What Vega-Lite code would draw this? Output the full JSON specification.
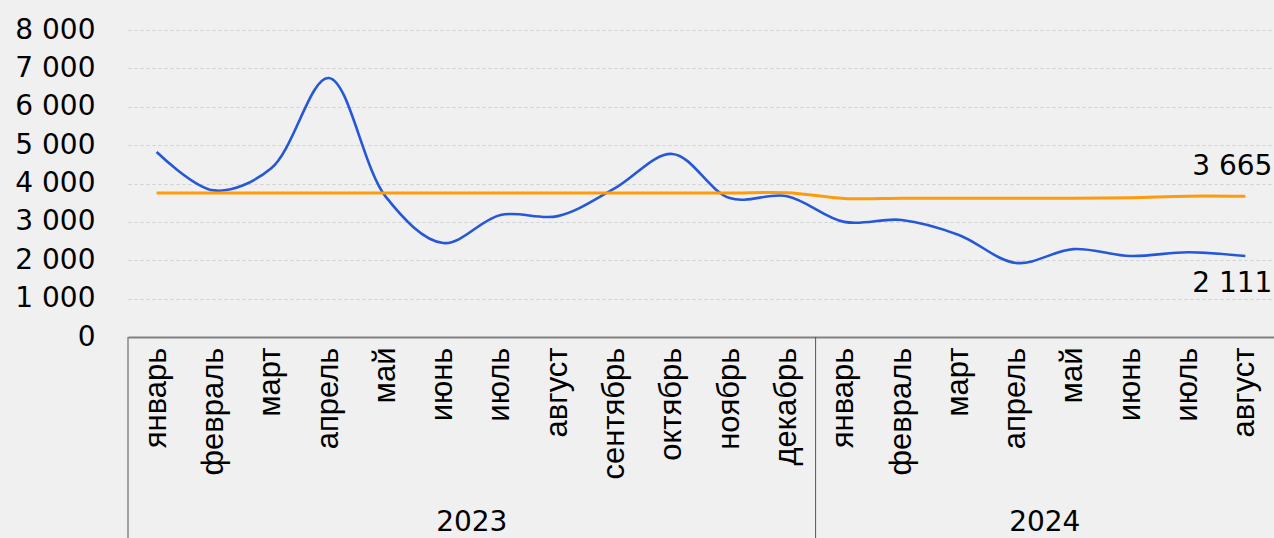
{
  "$schema": "https://vega.github.io/schema/vega-lite/v6.json",
  "autosize": {"type": "none"},
  "width": 1146,
  "height": 307,
  "padding": {"left": 128, "top": 30, "right": 0, "bottom": 201},
  "background": "#f0f0f0",
  "config": {
    "view": {"stroke": null},
    "locale": {"number": {"decimal": ",", "thousands": "\u00a0", "grouping": [3], "currency": ["", ""]}}
  },
  "datasets": {
    "main": [
      {"key": "январь|2023", "year": "2023", "fact": 4820, "avg": 3750},
      {"key": "февраль|2023", "year": "2023", "fact": 3820, "avg": 3750},
      {"key": "март|2023", "year": "2023", "fact": 4400, "avg": 3750},
      {"key": "апрель|2023", "year": "2023", "fact": 6750, "avg": 3750},
      {"key": "май|2023", "year": "2023", "fact": 3650, "avg": 3750},
      {"key": "июнь|2023", "year": "2023", "fact": 2450, "avg": 3750},
      {"key": "июль|2023", "year": "2023", "fact": 3180, "avg": 3750},
      {"key": "август|2023", "year": "2023", "fact": 3150, "avg": 3750},
      {"key": "сентябрь|2023", "year": "2023", "fact": 3880, "avg": 3750},
      {"key": "октябрь|2023", "year": "2023", "fact": 4770, "avg": 3750},
      {"key": "ноябрь|2023", "year": "2023", "fact": 3620, "avg": 3750},
      {"key": "декабрь|2023", "year": "2023", "fact": 3670, "avg": 3760},
      {"key": "январь|2024", "year": "2024", "fact": 3000, "avg": 3610},
      {"key": "февраль|2024", "year": "2024", "fact": 3050, "avg": 3615},
      {"key": "март|2024", "year": "2024", "fact": 2660, "avg": 3615},
      {"key": "апрель|2024", "year": "2024", "fact": 1930, "avg": 3615},
      {"key": "май|2024", "year": "2024", "fact": 2290, "avg": 3615},
      {"key": "июнь|2024", "year": "2024", "fact": 2110, "avg": 3630},
      {"key": "июль|2024", "year": "2024", "fact": 2210, "avg": 3670},
      {"key": "август|2024", "year": "2024", "fact": 2111, "avg": 3665}
    ],
    "years": [
      {"key": "июль|2023", "label": "2023", "top": 0, "bottom": -5300, "sep": "январь|2023"},
      {"key": "май|2024", "label": "2024", "top": 0, "bottom": -5300, "sep": "январь|2024"}
    ]
  },
  "layer": [
    {
      "data": {"name": "main"},
      "mark": {"type": "line", "interpolate": "catmull-rom", "color": "#2458d8", "strokeWidth": 2.6},
      "encoding": {
        "x": {
          "field": "key", "type": "nominal", "sort": null, "bandPosition": 0.5,
          "scale": {"type": "band", "paddingInner": 0, "paddingOuter": 0},
          "axis": {
            "title": null,
            "labelExpr": "split(datum.label, '|')[0]",
            "labelAngle": -90,
            "labelPadding": 10,
            "labelFont": "Liberation Sans",
            "labelFontSize": 31,
            "labelColor": "#000000",
            "labelLimit": 300,
            "labelOverlap": false,
            "ticks": false,
            "domainColor": "#808080",
            "domainWidth": 2,
            "grid": false
          }
        },
        "y": {
          "field": "fact", "type": "quantitative",
          "scale": {"domain": [0, 8000], "nice": false, "zero": true},
          "axis": {
            "title": null,
            "tickCount": 8,
            "format": ",d",
            "labelFont": "DejaVu Sans",
            "labelFontSize": 28,
            "labelColor": "#000000",
            "labelPadding": 33,
            "labelOverlap": false,
            "labelFlush": false,
            "ticks": false,
            "domain": false,
            "grid": true,
            "gridColor": "#cfcfcf",
            "gridDash": [3, 3],
            "gridWidth": 1
          }
        }
      }
    },
    {
      "data": {"name": "main"},
      "mark": {"type": "line", "interpolate": "catmull-rom", "color": "#ff9a0a", "strokeWidth": 3},
      "encoding": {
        "x": {"field": "key", "type": "nominal", "sort": null, "bandPosition": 0.5},
        "y": {"field": "avg", "type": "quantitative"}
      }
    },
    {
      "data": {"name": "main"},
      "transform": [{"filter": "datum.key === 'август|2024'"}],
      "mark": {"type": "text", "align": "right", "baseline": "middle", "dx": 27, "dy": -29, "font": "DejaVu Sans", "fontSize": 28, "color": "#000000"},
      "encoding": {
        "x": {"field": "key", "type": "nominal", "sort": null, "bandPosition": 0.5},
        "y": {"field": "avg", "type": "quantitative"},
        "text": {"field": "avg", "type": "quantitative", "format": ",d"}
      }
    },
    {
      "data": {"name": "main"},
      "transform": [{"filter": "datum.key === 'август|2024'"}],
      "mark": {"type": "text", "align": "right", "baseline": "middle", "dx": 27, "dy": 28, "font": "DejaVu Sans", "fontSize": 28, "color": "#000000"},
      "encoding": {
        "x": {"field": "key", "type": "nominal", "sort": null, "bandPosition": 0.5},
        "y": {"field": "fact", "type": "quantitative"},
        "text": {"field": "fact", "type": "quantitative", "format": ",d"}
      }
    },
    {
      "data": {"name": "years"},
      "mark": {"type": "rule", "color": "#555555", "strokeWidth": 1},
      "encoding": {
        "x": {"field": "sep", "type": "nominal", "sort": null, "bandPosition": 0},
        "y": {"field": "top", "type": "quantitative"},
        "y2": {"field": "bottom"}
      }
    },
    {
      "data": {"name": "years"},
      "mark": {"type": "text", "align": "center", "baseline": "middle", "font": "DejaVu Sans", "fontSize": 28, "color": "#000000"},
      "encoding": {
        "x": {"field": "key", "type": "nominal", "sort": null, "bandPosition": 0},
        "y": {"datum": -4840, "type": "quantitative"},
        "text": {"field": "label"}
      }
    }
  ]
}
